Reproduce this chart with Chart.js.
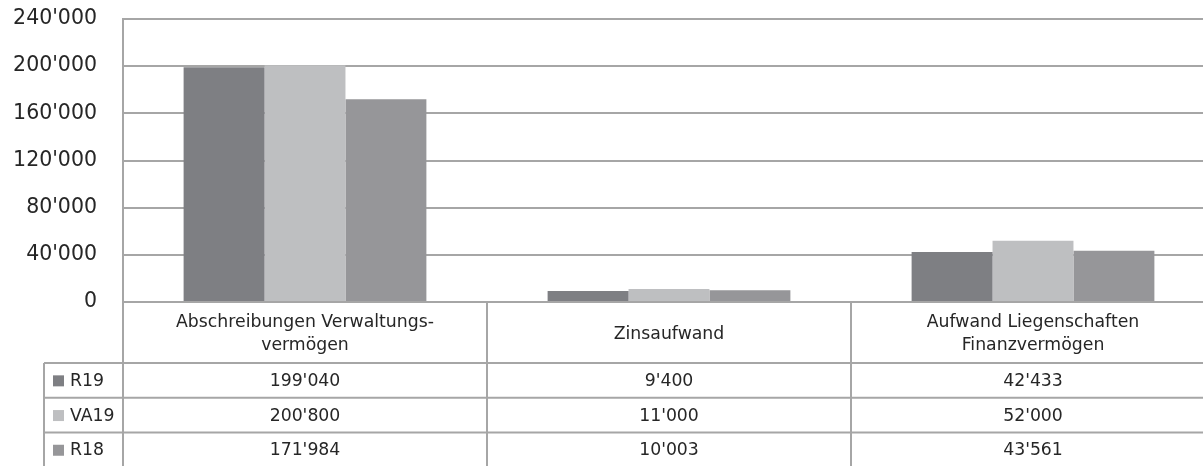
<!DOCTYPE html>
<html>
<head>
<meta charset="utf-8">
<script src="https://cdn.jsdelivr.net/npm/chart.js@4"></script>
<style>
  html, body { margin: 0; padding: 0; background: #fff; overflow: hidden; }
  #wrap { width: 1215px; height: 466px; }
</style>
</head>
<body>
<div id="wrap"><canvas id="costChart" width="1215" height="466"></canvas></div>
<script>
// Kategorien (mehrzeilige Beschriftung wie in der Tabelle)
const categories = [
    ['Abschreibungen Verwaltungs-', 'vermögen'],
    ['Zinsaufwand'],
    ['Aufwand Liegenschaften', 'Finanzvermögen']
];
const seriesNames = ['R19', 'VA19', 'R18'];
const r19 = [199040, 9400, 42433];
const va19 = [200800, 11000, 52000];
const r18 = [171984, 10003, 43561];
const seriesColors = ['#7e7f83', '#bebfc1', '#969699'];
const yTicks = [0, 40000, 80000, 120000, 160000, 200000, 240000];

const LINE = '#a6a6a6';
const FONT = '"DejaVu Sans", sans-serif';

function fmt(v) {
    return String(v).replace(/\B(?=(\d{3})+(?!\d))/g, "'");
}

// Datentabelle unter dem Diagramm zeichnen
const dataTablePlugin = {
    id: 'dataTable',
    afterDraw(chart) {
        const ctx = chart.ctx;
        const area = chart.chartArea;
        const x = chart.scales.x;
        const right = chart.width;
        const top = area.bottom;
        const labelRowH = 61;
        const rowH = 34.7;
        const legendLeft = 44;
        const bottom = chart.height;
        const allSeries = [r19, va19, r18];

        ctx.save();
        ctx.strokeStyle = LINE;
        ctx.lineWidth = 2;

        // horizontale Linien
        ctx.beginPath();
        ctx.moveTo(area.left, top);
        ctx.lineTo(right, top);
        for (let i = 0; i < allSeries.length; i++) {
            const y = top + labelRowH + i * rowH;
            ctx.moveTo(legendLeft, y);
            ctx.lineTo(right, y);
        }
        // vertikale Linien
        ctx.moveTo(area.left, area.top);
        ctx.lineTo(area.left, bottom);
        ctx.moveTo(legendLeft, top + labelRowH);
        ctx.lineTo(legendLeft, bottom);
        for (let i = 1; i < categories.length; i++) {
            const bx = (x.getPixelForValue(i - 1) + x.getPixelForValue(i)) / 2;
            ctx.moveTo(bx, top);
            ctx.lineTo(bx, bottom);
        }
        ctx.stroke();

        ctx.fillStyle = '#262626';
        ctx.font = '17.3px ' + FONT;
        ctx.textAlign = 'center';
        ctx.textBaseline = 'middle';

        // Kategorienzeile
        categories.forEach((lines, i) => {
            const cx = x.getPixelForValue(i);
            const mid = top + labelRowH / 2 + 2;
            const lh = 23;
            lines.forEach((ln, j) => {
                const y = mid + (j - (lines.length - 1) / 2) * lh;
                ctx.fillText(ln, cx, y);
            });
        });

        // Datenzeilen
        allSeries.forEach((vals, s) => {
            const y = top + labelRowH + s * rowH + rowH / 2 + 1;
            ctx.fillStyle = seriesColors[s];
            ctx.fillRect(legendLeft + 9, y - 6, 11, 11);
            ctx.fillStyle = '#262626';
            ctx.textAlign = 'left';
            ctx.fillText(seriesNames[s], legendLeft + 26, y);
            ctx.textAlign = 'center';
            vals.forEach((v, i) => {
                ctx.fillText(fmt(v), x.getPixelForValue(i), y);
            });
        });
        ctx.restore();
    }
};

new Chart(document.getElementById('costChart').getContext('2d'), {
    type: 'bar',
    data: {
        labels: categories.map(c => c.join(' ')),
        datasets: [r19, va19, r18].map((vals, i) => ({
            label: seriesNames[i],
            data: vals,
            backgroundColor: seriesColors[i],
            categoryPercentage: 0.667,
            barPercentage: 1.0
        }))
    },
    options: {
        responsive: false,
        animation: false,
        layout: { padding: { top: 19, bottom: 164, left: 0, right: 0 } },
        plugins: {
            legend: { display: false },
            tooltip: { enabled: false }
        },
        scales: {
            x: {
                display: false
            },
            y: {
                min: 0,
                max: 240000,
                afterBuildTicks(scale) {
                    scale.ticks = yTicks.map(v => ({ value: v }));
                },
                afterFit(scale) {
                    scale.width = 123;
                    scale.paddingTop = 0;
                    scale.paddingBottom = 0;
                },
                border: { display: true, color: LINE, width: 2 },
                grid: {
                    color: LINE,
                    lineWidth: 2,
                    drawTicks: false
                },
                ticks: {
                    padding: 26,
                    color: '#262626',
                    font: { family: FONT, size: 20.5 },
                    callback: v => fmt(v)
                }
            }
        }
    },
    plugins: [dataTablePlugin]
});
</script>
</body>
</html>
